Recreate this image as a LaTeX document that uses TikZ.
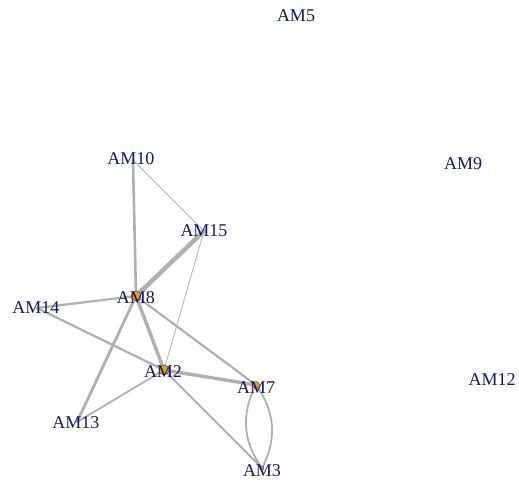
\documentclass[tikz,border=0pt]{standalone}
\usepackage{fontspec}
\setmainfont{Liberation Serif}
\definecolor{lblblue}{RGB}{22,22,100}
\definecolor{edgegray}{RGB}{176,176,176}
\definecolor{vorange}{RGB}{228,160,32}
\tikzset{
  lbl/.style={font=\fontsize{18}{18}\selectfont, text=lblblue, inner sep=0pt, anchor=center},
  edge/.style={draw=edgegray, line cap=round},
  vdot/.style={circle, fill=vorange, draw=black!70, line width=0.5pt, inner sep=0pt},
}
\begin{document}
\begin{tikzpicture}[x=1pt, y=-1pt]
\useasboundingbox (0,0) rectangle (519,483);
% vertex positions
\coordinate (v5) at (296,17);
\coordinate (v9) at (463,165);
\coordinate (v12) at (492,380);
\coordinate (v10) at (133,160);
\coordinate (v15) at (204,231);
\coordinate (v8) at (136,296);
\coordinate (v14) at (37,308);
\coordinate (v2) at (164,370);
\coordinate (v7) at (256,385);
\coordinate (v13) at (77,422);
\coordinate (v3) at (262,468);
% edges
\draw[edge, line width=2.6pt] (v10) -- (v8);
\draw[edge, line width=0.8pt] (v10) -- (v15);
\draw[edge, line width=4.5pt] (v15) -- (v8);
\draw[edge, line width=0.8pt] (v15) -- (v2);
\draw[edge, line width=2.2pt] (v14) -- (v8);
\draw[edge, line width=2.2pt] (v14) -- (v2);
\draw[edge, line width=2.8pt] (v8) -- (v13);
\draw[edge, line width=3.4pt] (v8) -- (v2);
\draw[edge, line width=2.2pt] (v8) -- (v7);
\draw[edge, line width=1.8pt] (v2) -- (v13);
\draw[edge, line width=3.4pt] (v2) -- (v7);
\draw[edge, line width=1.8pt] (v2) -- (v3);
\draw[edge, line width=1.8pt] (v7) to[bend right=32] (v3);
\draw[edge, line width=1.8pt] (v7) to[bend left=32] (v3);
% vertex dots
\node[vdot, minimum size=10pt] (d8) at (v8) {};
\node[vdot, minimum size=10pt] (d2) at (v2) {};
\node[vdot, minimum size=7pt] (d7) at (v7) {};
\node[vdot, minimum size=4pt] (d3) at (v3) {};
% labels
\node[lbl] (AM5) at (296,16) {AM5};
\node[lbl] (AM9) at (463,164) {AM9};
\node[lbl] (AM12) at (492,380) {AM12};
\node[lbl] (AM10) at (131,159) {AM10};
\node[lbl] (AM15) at (204,231) {AM15};
\node[lbl] (AM8) at (136,298) {AM8};
\node[lbl] (AM14) at (36,308) {AM14};
\node[lbl] (AM2) at (163,372) {AM2};
\node[lbl] (AM7) at (256,388) {AM7};
\node[lbl] (AM13) at (76,423) {AM13};
\node[lbl] (AM3) at (262,471) {AM3};
\end{tikzpicture}
\end{document}
